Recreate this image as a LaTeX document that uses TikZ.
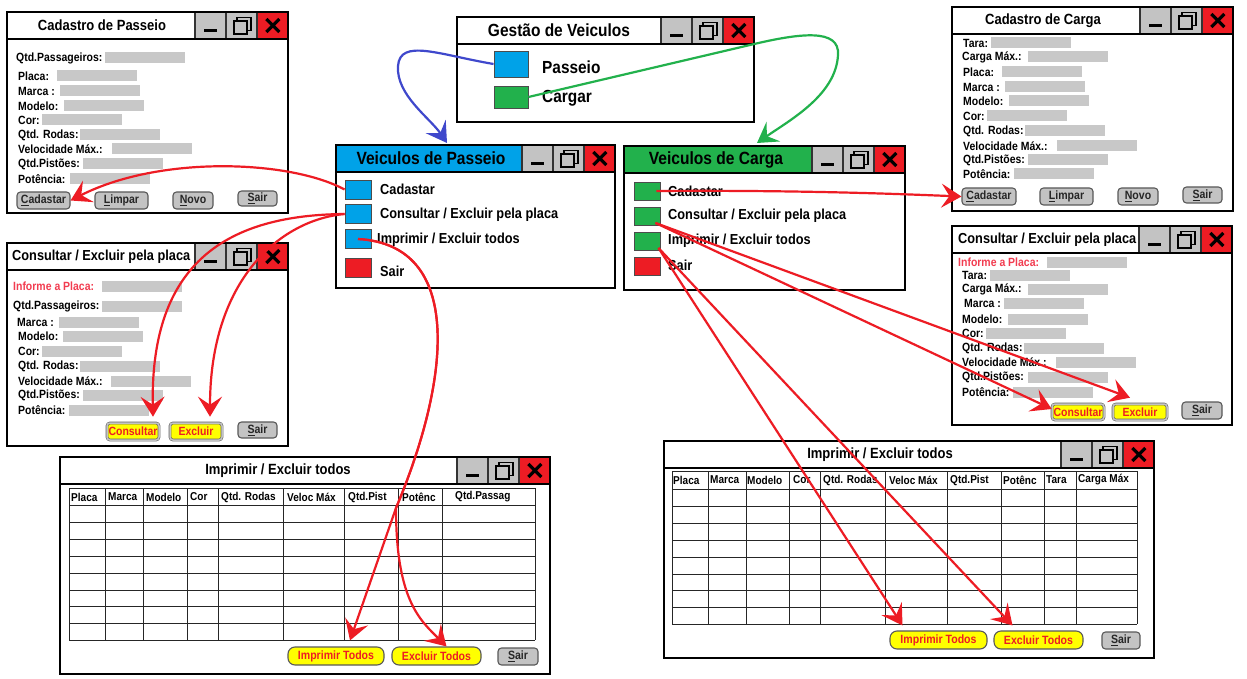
\documentclass[tikz,border=0pt]{standalone}
\usepackage{fontspec}
\setmainfont{Liberation Sans}[FakeStretch=0.88]
\usetikzlibrary{arrows.meta}
\definecolor{xred}{RGB}{237,28,36}
\definecolor{btngray}{RGB}{195,195,195}
\definecolor{fieldgray}{RGB}{200,200,200}
\definecolor{pblue}{RGB}{0,162,232}
\definecolor{cgreen}{RGB}{34,177,76}
\definecolor{ablue}{RGB}{63,72,204}
\definecolor{infored}{RGB}{242,60,80}
\definecolor{ylw}{RGB}{255,255,0}
\newcommand\myfs[1]{\fontsize{#1}{#1}\selectfont\bfseries}
\newcounter{fldc}
\newcommand\fld[5][black]{\stepcounter{fldc}%
 \node[lbl, text=#1] (fl\arabic{fldc}) at (#2,#3) {#4};
 \node[fbox] (fb\arabic{fldc}) at (#5,#3) {};}
% window: #1 name, #2 x1, #3 y1, #4 x2, #5 y2, #6 title fill
\newcommand\uiwin[6]{%
 \fill[white] (#2,#3) rectangle (#4,#5);
 \fill[#6] (#2,#3) rectangle (#4-93,#3+27);
 \fill[btngray] (#4-93,#3) rectangle (#4-31,#3+27);
 \fill[xred] (#4-31,#3) rectangle (#4,#3+27);
 \draw[thinwin] (#4-93,#3) -- ++(0,27) (#4-62,#3) -- ++(0,27) (#4-31,#3) -- ++(0,27);
 \fill[black] (#4-84,#3+17) rectangle ++(13,3);
 \draw[line width=1.7pt] (#4-51,#3+5.5) rectangle ++(14,13);
 \fill[btngray] (#4-54,#3+9) rectangle ++(13,13);
 \draw[line width=1.7pt] (#4-54,#3+9) rectangle ++(13,13);
 \draw[line width=3.2pt] (#4-21.7,#3+7) -- ++(13,13) (#4-21.7,#3+20) -- ++(13,-13);
 \draw[winline] (#2,#3+27) -- (#4,#3+27);
 \draw[winline] (#2,#3) rectangle (#4,#5);
 \coordinate (#1) at (#2,#3);
}
\tikzset{
 winline/.style={line width=2pt, draw=black},
 thinwin/.style={line width=1.2pt, draw=black!80},
 lbl/.style={font=\myfs{11.9}, anchor=west, inner sep=0pt},
 fbox/.style={fill=fieldgray, anchor=west, minimum width=80pt, minimum height=11pt, inner sep=0pt},
 wtitle/.style={font=\myfs{14.8}, inner sep=0pt},
 menutxt/.style={font=\myfs{14.5}, anchor=west, inner sep=0pt},
 sqbox/.style={draw=black!70, line width=0.9pt, minimum width=26pt, minimum height=19pt, inner sep=0pt},
 gbtn/.style={draw=black!65, fill=btngray, rounded corners=3.5pt, line width=1.1pt, font=\myfs{12}, inner sep=0pt, text=black!85},
 ybtn/.style={draw=black!60, double=btngray, double distance=1.5pt, line width=0.6pt, fill=ylw, rounded corners=3pt, font=\myfs{11.9}, inner sep=0pt, text=xred},
 ybtn2/.style={draw=black!65, fill=ylw, rounded corners=7pt, line width=1.1pt, font=\myfs{12}, inner sep=0pt, text=xred},
 tbl/.style={draw=black!85, line width=0.9pt},
 thead/.style={font=\myfs{11.4}, anchor=west, inner sep=0pt},
 bigtip/.style={-{Stealth[length=20pt,width=24pt,inset=8pt]}},
 redarr/.style={draw=xred, line width=2.2pt, bigtip},
 bluearr/.style={draw=ablue, line width=2.2pt, bigtip},
 greenarr/.style={draw=cgreen, line width=2.2pt, bigtip},
}
\begin{document}
\begin{tikzpicture}[x=1pt,y=-1pt]
\useasboundingbox (0,0) rectangle (1247,679);
\fill[white] (0,0) rectangle (1247,679);

%% W1 Cadastro de Passeio
\uiwin{w1}{7}{12}{288}{213}{white}
\node[wtitle] (t1) at (102,25.5) {Cadastro de Passeio};
\fld{16}{58}{Qtd.Passageiros:}{105}
\fld{18}{76}{Placa:}{57}
\fld{18}{91}{Marca :}{60}
\fld{18}{106}{Modelo:}{64}
\fld{18}{120}{Cor:}{42}
\fld{18}{135}{Qtd. Rodas:}{80}
\fld{18}{149}{Velocidade Máx.:}{112}
\fld{18}{164}{Qtd.Pistões:}{83}
\fld{18}{179}{Potência:}{70}
\node[gbtn, minimum width=53pt, minimum height=17pt] (p-cad) at (43.5,200.5) {\underline{C}adastar};
\node[gbtn, minimum width=53pt, minimum height=17pt] (p-lim) at (121.5,200.5) {\underline{L}impar};
\node[gbtn, minimum width=40pt, minimum height=17pt] (p-nov) at (193,200.5) {\underline{N}ovo};
\node[gbtn, minimum width=39pt, minimum height=15pt] (p-sai) at (257.5,198.5) {\underline{S}air};

%% W2 Gestao de Veiculos
\uiwin{w2}{457}{17}{754}{122}{white}
\node[wtitle, font=\myfs{17.6}] (t2) at (559,30.5) {Gestão de Veiculos};
\node[sqbox, fill=pblue, minimum width=34pt, minimum height=26pt] (gv-pas) at (511,64) {};
\node[sqbox, fill=cgreen, minimum width=34pt, minimum height=22pt] (gv-car) at (511,97) {};
\node[menutxt, font=\myfs{17.5}] (gv-pas-t) at (542,67) {Passeio};
\node[menutxt, font=\myfs{17.5}] (gv-car-t) at (542,98) {Cargar};

%% W3 Cadastro de Carga
\uiwin{w3}{952}{7}{1233}{211}{white}
\node[wtitle] (t3) at (1043,21) {Cadastro de Carga};
\fld{963}{43}{Tara:}{991}
\fld{962}{57}{Carga Máx.:}{1028}
\fld{963}{72}{Placa:}{1002}
\fld{963}{87}{Marca :}{1005}
\fld{963}{101}{Modelo:}{1009}
\fld{963}{116}{Cor:}{987}
\fld{963}{131}{Qtd. Rodas:}{1025}
\fld{963}{146}{Velocidade Máx.:}{1057}
\fld{963}{160}{Qtd.Pistões:}{1028}
\fld{963}{174}{Potência:}{1014}
\node[gbtn, minimum width=54pt, minimum height=17pt] (c-cad) at (989,196.5) {\underline{C}adastar};
\node[gbtn, minimum width=53pt, minimum height=17pt] (c-lim) at (1066.5,196.5) {\underline{L}impar};
\node[gbtn, minimum width=40pt, minimum height=17pt] (c-nov) at (1138,196.5) {\underline{N}ovo};
\node[gbtn, minimum width=39pt, minimum height=16pt] (c-sai) at (1202.5,195) {\underline{S}air};

%% W4 Veiculos de Passeio
\uiwin{w4}{336}{145}{615}{288}{pblue}
\node[wtitle, font=\myfs{17.7}] (t4) at (431,158.5) {Veiculos de Passeio};
\node[sqbox, fill=pblue] (vp-cad) at (358,189.5) {};
\node[sqbox, fill=pblue] (vp-con) at (358,214) {};
\node[sqbox, fill=pblue] (vp-imp) at (358,239) {};
\node[sqbox, fill=xred] (vp-sai) at (358,267.5) {};
\node[menutxt] (vp-cad-t) at (380,189) {Cadastar};
\node[menutxt] (vp-con-t) at (380,215) {Consultar / Excluir pela placa};
\node[menutxt] (vp-imp-t) at (377,240) {Imprimir / Excluir todos};
\node[menutxt] (vp-sai-t) at (380,271) {Sair};

%% W5 Veiculos de Carga
\uiwin{w5}{624}{146}{905}{290}{cgreen}
\node[wtitle, font=\myfs{17.7}] (t5) at (716,160) {Veiculos de Carga};
\node[sqbox, fill=cgreen, minimum height=18pt] (vc-cad) at (647,191) {};
\node[sqbox, fill=cgreen, minimum height=18pt] (vc-con) at (647,216.5) {};
\node[sqbox, fill=cgreen, minimum height=18pt] (vc-imp) at (647,241.5) {};
\node[sqbox, fill=xred, minimum height=18pt] (vc-sai) at (647,266) {};
\node[menutxt] (vc-cad-t) at (668,191) {Cadastar};
\node[menutxt] (vc-con-t) at (668,216) {Consultar / Excluir pela placa};
\node[menutxt] (vc-imp-t) at (668,241) {Imprimir / Excluir todos};
\node[menutxt] (vc-sai-t) at (668,265) {Sair};

%% W6 Consultar (passeio)
\uiwin{w6}{7}{243}{288}{446}{white}
\node[wtitle, font=\myfs{14.5}, anchor=west] (t6) at (12,256.5) {Consultar / Excluir pela placa};
\fld[infored]{13}{286}{Informe a Placa:}{102}
\fld{13}{306}{Qtd.Passageiros:}{102}
\fld{17}{322}{Marca :}{59}
\fld{18}{336}{Modelo:}{63}
\fld{18}{351}{Cor:}{42}
\fld{18}{366}{Qtd. Rodas:}{80}
\fld{18}{381}{Velocidade Máx.:}{111}
\fld{18}{395}{Qtd.Pistões:}{83}
\fld{18}{410}{Potência:}{69}
\node[ybtn, minimum width=52pt, minimum height=17pt] (pc-con) at (133,431.5) {Consultar};
\node[ybtn, minimum width=52pt, minimum height=17pt] (pc-exc) at (196,431.5) {Excluir};
\node[gbtn, minimum width=39pt, minimum height=16pt] (pc-sai) at (257.5,430) {\underline{S}air};

%% W7 Consultar (carga)
\uiwin{w7}{952}{226}{1232}{425}{white}
\node[wtitle, font=\myfs{14.5}, anchor=west] (t7) at (958,239.5) {Consultar / Excluir pela placa};
\fld[infored]{958}{262}{Informe a Placa:}{1047}
\fld{962}{275}{Tara:}{990}
\fld{962}{289}{Carga Máx.:}{1028}
\fld{964}{303}{Marca :}{1004}
\fld{962}{319}{Modelo:}{1008}
\fld{962}{333}{Cor:}{986}
\fld{962}{348}{Qtd. Rodas:}{1024}
\fld{962}{362}{Velocidade Máx.:}{1056}
\fld{962}{377}{Qtd.Pistões:}{1028}
\fld{962}{392}{Potência:}{1013}
\node[ybtn, minimum width=52pt, minimum height=16pt] (cc-con) at (1078,412) {Consultar};
\node[ybtn, minimum width=54pt, minimum height=16pt] (cc-exc) at (1140,412) {Excluir};
\node[gbtn, minimum width=40pt, minimum height=17pt] (cc-sai) at (1202,410.5) {\underline{S}air};

%% W8 Imprimir (passeio)
\uiwin{w8}{60}{457}{550}{674}{white}
\node[wtitle] (t8) at (278,470.5) {Imprimir / Excluir todos};
\foreach \x in {69,105,143,187,218,283,344,398,442,535} \draw[tbl] (\x,488) -- (\x,640);
\foreach \y in {488,505,522,539,556,573,590,606,623,640} \draw[tbl] (69,\y) -- (535,\y);
\foreach \x/\t [count=\i] in {71/Placa,108/Marca,146/Modelo,190/Cor,221/Qtd. Rodas,287/Veloc Máx,348/Qtd.Pist,402/Potênc,455/Qtd.Passag}
  \node[thead] (h8-\i) at (\x,497) {\t};
\node[ybtn2, minimum width=96pt, minimum height=18pt] (pi-imp) at (336,656) {Imprimir Todos};
\node[ybtn2, minimum width=89pt, minimum height=18pt] (pi-exc) at (436.5,656) {Excluir Todos};
\node[gbtn, minimum width=40pt, minimum height=17pt] (pi-sai) at (518,656.5) {\underline{S}air};

%% W9 Imprimir (carga)
\uiwin{w9}{664}{441}{1154}{658}{white}
\node[wtitle] (t9) at (880,454.5) {Imprimir / Excluir todos};
\foreach \x in {672,708,746,789,820,885,947,1001,1044,1076,1137} \draw[tbl] (\x,471) -- (\x,624);
\foreach \y in {471,489,506,523,540,557,574,590,607,624} \draw[tbl] (672,\y) -- (1137,\y);
\foreach \x/\t [count=\i] in {673/Placa,710/Marca,747/Modelo,793/Cor,823/Qtd. Rodas,889/Veloc Máx,950/Qtd.Pist,1003/Potênc,1046/Tara,1078/Carga Máx}
  \node[thead] (h9-\i) at (\x,480) {\t};
\node[ybtn2, minimum width=97pt, minimum height=18pt] (ci-imp) at (938.5,640) {Imprimir Todos};
\node[ybtn2, minimum width=89pt, minimum height=18pt] (ci-exc) at (1038.5,640) {Excluir Todos};
\node[gbtn, minimum width=38pt, minimum height=17pt] (ci-sai) at (1121,640.5) {\underline{S}air};

%% connectors
\coordinate (vp-in) at (447,143);
\coordinate (vc-in) at (757,143);
\coordinate (bl-left) at (398,66);
\coordinate (gv-bend) at (750,45);
\coordinate (gr-right) at (838,55);
\coordinate (vp-split) at (396,508);
\draw[bluearr] (gv-pas.west) .. controls (440,55) and (400,38) .. (bl-left) .. controls (396,95) and (430,118) .. (vp-in);
\draw[greenarr] (gv-car.east) -- (gv-bend) .. controls (800,33) and (840,28) .. (gr-right) .. controls (836,95) and (790,120) .. (vc-in);

\draw[redarr] (vp-cad.west) .. controls (290,160) and (160,155) .. (p-cad.east);
\draw[redarr] (vp-con.west) .. controls (230,215) and (150,260) .. ([xshift=20pt,yshift=6pt]pc-con.north);
\draw[redarr] (vp-con.west) .. controls (280,220) and (210,280) .. ([xshift=14pt,yshift=6pt]pc-exc.north);
\draw[redarr] (vp-imp.center) .. controls (465,245) and (450,380) .. (vp-split) -- ([xshift=14pt,yshift=6pt]pi-imp.north);
\draw[redarr] (vp-imp.center) .. controls (465,245) and (450,380) .. (vp-split) .. controls (396,600) and (420,620) .. ([xshift=10pt]pi-exc.north);

\draw[redarr] ([xshift=-4pt]vc-cad.east) .. controls (800,190) and (900,194) .. (c-cad.west);
\draw[redarr] ([xshift=-5pt,yshift=3pt]vc-con.south east) -- ([yshift=3pt]cc-con.west);
\draw[redarr] ([xshift=-5pt,yshift=3pt]vc-con.south east) -- ([xshift=-10pt,yshift=6pt]cc-exc.north);
\draw[redarr] ([xshift=-2pt,yshift=3pt]vc-imp.south east) -- ([xshift=-36pt,yshift=5pt]ci-imp.north);
\draw[redarr] ([xshift=-2pt,yshift=3pt]vc-imp.south east) -- ([xshift=-26pt,yshift=5pt]ci-exc.north);
\end{tikzpicture}
\end{document}
